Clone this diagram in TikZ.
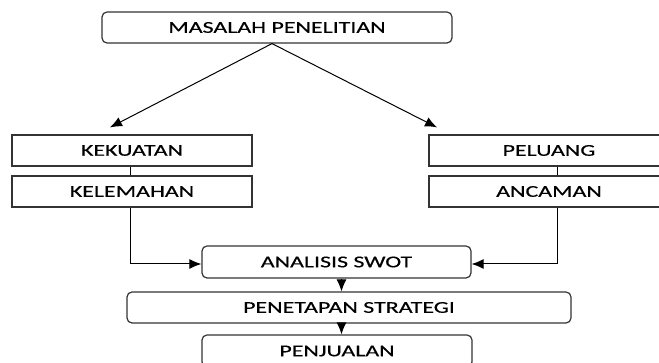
\documentclass[tikz,border=0pt]{standalone}
\usepackage{fontspec}
\setmainfont[FakeStretch=1.45,FakeBold=0.4]{Carlito}
\usetikzlibrary{arrows.meta,calc,positioning}

\begin{document}
\begin{tikzpicture}[x=1pt, y=1pt, >={Latex[length=12pt,width=10pt]},
    kotak/.style={draw=black!80, line width=1.2pt, minimum height=31pt, inner sep=0pt,
                  font=\fontsize{16.5}{18}\selectfont},
    kotakbulat/.style={kotak, rounded corners=5pt},
    garis/.style={line width=1pt}]

    %% Background
    \useasboundingbox (0,0) rectangle (659,363);

  % Kotak atas
  \node[kotakbulat, minimum width=350pt] (masalah) at (277,335.5) {MASALAH PENELITIAN};

  % Faktor internal dan eksternal
  \node[kotak, minimum width=240pt] (kekuatan) at (132,212.5) {KEKUATAN};
  \node[kotak, minimum width=240pt] (kelemahan) at (132,171.5) {KELEMAHAN};
  \node[kotak, minimum width=240pt] (peluang) at (549,212.5) {PELUANG};
  \node[kotak, minimum width=240pt] (ancaman) at (549,171.5) {ANCAMAN};

  % Alur ke bawah
  \node[kotakbulat, minimum width=269pt, minimum height=32pt] (analisis) at (336.5,101) {ANALISIS SWOT};
  \node[kotakbulat, minimum width=444pt] (penetapan) at (349,55.5) {PENETAPAN STRATEGI};
  \node[kotakbulat, minimum width=270pt, minimum height=32pt] (penjualan) at (337,12) {PENJUALAN};

  % Panah dari masalah
  \draw[garis, ->] ([xshift=-5pt]masalah.south) -- ([shift={(-22pt,7pt)}]kekuatan.north);
  \draw[garis, ->] ([xshift=-5pt]masalah.south) -- ([shift={(-112pt,7pt)}]peluang.north);

  % Penghubung kotak
  \draw[garis] ([xshift=-2pt]kekuatan.south) -- ([xshift=-2pt]kelemahan.north);
  \draw[garis] ([xshift=8pt]peluang.south) -- ([xshift=8pt]ancaman.north);

  \draw[garis, ->] ([xshift=-2pt]kelemahan.south) |- ([yshift=-2pt]analisis.west);
  \draw[garis, ->] ([xshift=8pt]ancaman.south) |- ([yshift=-2pt]analisis.east);

  \draw[garis, ->] ([xshift=5pt]analisis.south) -- ([xshift=5pt]analisis.south |- penetapan.north);
  \draw[garis, ->] ([xshift=5pt]analisis.south |- penetapan.south) -- ([xshift=5pt]analisis.south |- penjualan.north);

\end{tikzpicture}
\end{document}
